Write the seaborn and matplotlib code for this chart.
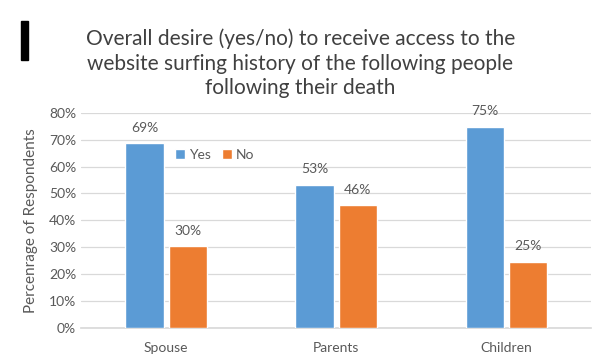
import matplotlib
matplotlib.use("Agg")
import matplotlib.pyplot as plt
import seaborn as sns
import pandas as pd

# Survey shares per relation, by answer
relations = ["Spouse", "Parents", "Children"]
yes_share = [68.6, 53.1, 74.9]
no_share = [30.3, 45.6, 24.6]
answers = ["Yes", "No"]
y_ticks = [0, 10, 20, 30, 40, 50, 60, 70, 80]

df = pd.DataFrame({
    "relation": relations * 2,
    "answer": ["Yes"] * 3 + ["No"] * 3,
    "share": yes_share + no_share,
})

sns.set_theme(style="white")
plt.rcParams["font.family"] = ["Lato", "DejaVu Sans"]

text_grey = "#595959"
fig = plt.figure(figsize=(5.92, 3.56), dpi=100)
ax = fig.add_axes([0.137, 0.079, 0.862, 0.604])

sns.barplot(data=df, x="relation", y="share", hue="answer", order=relations,
            hue_order=answers, palette={"Yes": "#5B9BD5", "No": "#ED7D31"},
            width=0.51, gap=0.12, saturation=1, ax=ax, zorder=3)

for cont in ax.containers:
    ax.bar_label(cont, labels=[f"{v:.0f}%" for v in cont.datavalues],
                 padding=7, fontsize=10, color=text_grey)

ax.set_xlim(-0.5, 2.5)
ax.set_ylim(0, 80)
ax.set_yticks(y_ticks)
ax.set_yticklabels([f"{t}%" for t in y_ticks])
ax.yaxis.grid(True, color="#d9d9d9", linewidth=0.9, zorder=0)
ax.set_axisbelow(True)
for s in ["left", "right", "top"]:
    ax.spines[s].set_visible(False)
ax.spines["bottom"].set_color("#d9d9d9")
ax.tick_params(axis="both", length=0, labelsize=10, colors=text_grey)
ax.tick_params(axis="x", pad=10)
ax.set_xlabel("")
ax.set_ylabel("Percenrage of Respondents", fontsize=11, color=text_grey, labelpad=8)

leg = ax.legend(loc="upper left", bbox_to_anchor=(0.16, 0.89), ncol=2, frameon=False,
                fontsize=10, handlelength=0.7, handleheight=0.7, handletextpad=0.3,
                columnspacing=0.8, labelcolor=text_grey)

fig.text(0.507, 0.822,
         "Overall desire (yes/no) to receive access to the\n"
         "website surfing history of the following people\n"
         "following their death",
         ha="center", va="center", fontsize=15, color="#404040", linespacing=1.3)

# Small black marker at top left
fig.patches.append(matplotlib.patches.Rectangle((0.036, 0.832), 0.012, 0.11,
                                                transform=fig.transFigure,
                                                color="black", zorder=5))

fig.savefig("out.png", dpi=100)
